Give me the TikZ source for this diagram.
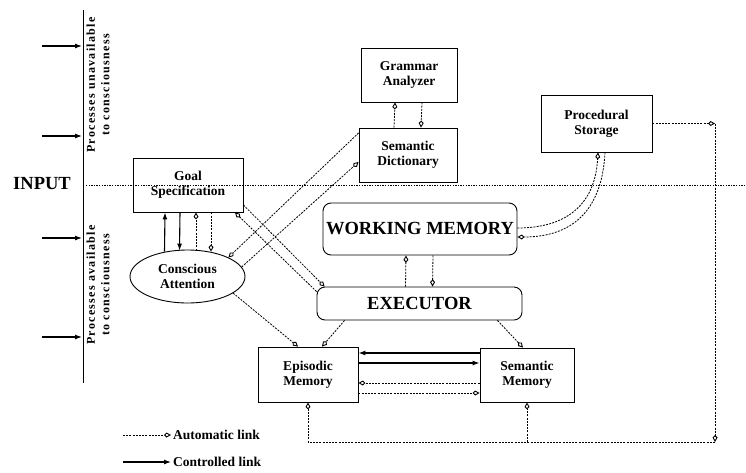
\documentclass[tikz,border=0pt]{standalone}
\usepackage{fontspec}
\setmainfont{Liberation Serif}
\newfontfamily\spacedserif[LetterSpace=11]{Liberation Serif}
\usetikzlibrary{arrows.meta,calc,shapes.geometric}
\begin{document}
\begin{tikzpicture}[x=1pt,y=-1pt,
  box/.style={draw,line width=0.9pt,align=center,inner sep=0pt,
    font=\fontsize{13.5}{15}\selectfont\bfseries},
  rbox/.style={box,rounded corners=8pt,font=\fontsize{18.5}{20}\selectfont\bfseries},
  ctrl/.style={line width=1.1pt,-{Latex[length=7pt,width=5pt]}},
  autoline/.style={line width=0.8pt,dash pattern=on 2pt off 1.2pt},
  autolink/.style={autoline,-{Kite[open,length=7pt,width=5pt,inset=2.5pt,line width=0.9pt]}},
  sidetext/.style={rotate=90,align=center,inner sep=0pt,
    font=\spacedserif\fontsize{12}{14.5}\selectfont\bfseries},
]
\useasboundingbox (0,0) rectangle (746,472);

% consciousness axis with its input arrows
\coordinate (axT) at (83,10);
\coordinate (axB) at (83,383);
\draw[line width=0.8pt] (axT) -- (axB);
\foreach \y [count=\i] in {46,136,238,337} {
  \coordinate (inS\i) at (42,\y);
  \coordinate (inE\i) at (82,\y);
  \draw[ctrl] (inS\i) -- (inE\i);
}
\node[sidetext] (unav) at (98,85) {Processes unavailable\\to consciousness};
\node[sidetext] (avail) at (98,285) {Processes available\\to consciousness};
\node[inner sep=0pt,font=\fontsize{18.5}{20}\selectfont\bfseries] (input) at (42,184) {INPUT};

% components
\node[box,minimum width=96pt,minimum height=54pt] (ga) at (409,75) {Grammar\\Analyzer};
\node[box,minimum width=98pt,minimum height=54pt] (sd) at (408,155) {Semantic\\Dictionary};
\node[box,minimum width=111pt,minimum height=57pt] (ps) at (596.5,123.5) {Procedural\\Storage};
\node[box,minimum width=110pt,minimum height=54pt] (gs) at (188,185) {Goal\\Specification};
\node[box,ellipse,minimum width=115pt,minimum height=53pt] (ca) at (187.5,276.5) {Conscious\\Attention};
\node[rbox,minimum width=194pt,minimum height=52pt] (wm) at (420,229) {WORKING MEMORY};
\node[rbox,minimum width=205pt,minimum height=33pt] (ex) at (419.5,303.5) {EXECUTOR};
\node[box,minimum width=100pt,minimum height=55pt] (em) at (308,374.5) {Episodic\\Memory};
\node[box,minimum width=94pt,minimum height=54pt] (sm) at (527,375) {Semantic\\Memory};

% boundary between unconscious and conscious processes
\coordinate (hL) at (86,185);
\coordinate (hR) at (746,185);
\draw[line width=0.8pt,dash pattern=on 1.3pt off 1.3pt] (hL) -- (hR);

% goal specification <-> conscious attention
\draw[ctrl] ([xshift=-23pt,yshift=-2pt]ca.north) -- ([xshift=-23pt]gs.south);
\draw[ctrl] ([xshift=-8pt]gs.south) -- ([xshift=-8pt,yshift=-1pt]ca.north);
\draw[autolink] ([xshift=8.5pt,yshift=-1pt]ca.north) -- ([xshift=8pt]gs.south);
\draw[autolink] ([xshift=23pt]gs.south) -- ([xshift=23.5pt,yshift=-2pt]ca.north);

% grammar analyzer <-> semantic dictionary
\draw[autolink] ([xshift=-14pt]sd.north) -- ([xshift=-14pt]ga.south);
\draw[autolink] ([xshift=13pt]ga.south) -- ([xshift=13pt]sd.north);

% working memory <-> executor
\draw[autolink] ([xshift=-14pt]ex.north) -- ([xshift=-14pt]wm.south);
\draw[autolink] ([xshift=13pt]wm.south) -- ([xshift=13pt]ex.north);

% goal specification <-> executor
\draw[autolink] ([yshift=-20pt]gs.east) -- ([xshift=8pt]ex.north west);
\draw[autolink] ([yshift=-5pt]ex.north west) -- ([xshift=47pt]gs.south);

% conscious attention <-> semantic dictionary
\draw[autolink] ([yshift=22pt]sd.west) -- (ca.25);
\draw[autolink] (ca.10) -- ([yshift=-7pt]sd.west);

% links into episodic and semantic memory
\draw[autolink] (ca.-20) -- ([xshift=-10pt]em.north);
\draw[autolink] ([xshift=28pt]ex.south west) -- ([xshift=14pt]em.north);
\draw[autolink] ([xshift=-25pt]ex.south east) -- ([xshift=-4pt]sm.north);

% episodic memory <-> semantic memory
\draw[ctrl] ([yshift=21.5pt]em.east -| sm.west) -- ([yshift=21.5pt]em.east);
\draw[ctrl] ([yshift=11.5pt]em.east) -- ([yshift=11.5pt]em.east -| sm.west);
\draw[autolink] ([yshift=-8.5pt]em.east -| sm.west) -- ([yshift=-8.5pt]em.east);
\draw[autolink] ([yshift=-18.5pt]em.east) -- ([yshift=-18.5pt]em.east -| sm.west);

% procedural storage <-> working memory
\draw[autolink] ([yshift=1pt]wm.east) .. controls +(48,0) and +(-3,53) .. ([xshift=1.5pt]ps.south);
\draw[autolink] ([xshift=8.5pt]ps.south) .. controls +(-3,60) and +(53,0) .. ([yshift=-8pt]wm.east);

% procedural storage feeding both long-term memories
\coordinate (busR) at (715,442);
\coordinate (psR) at (ps.east -| busR);
\draw[autolink] (ps.east) -- (psR);
\draw[autolink] (psR) -- (busR);
\draw[autolink] (busR) -- (busR -| em.south) -- (em.south);
\draw[autolink] (busR -| sm.south) -- (sm.south);

% legend
\node[anchor=west,inner sep=0pt,font=\fontsize{13.5}{15}\selectfont\bfseries] (lta) at (173,435) {Automatic link};
\node[anchor=west,inner sep=0pt,font=\fontsize{13.5}{15}\selectfont\bfseries] (ltc) at (173,462) {Controlled link};
\coordinate (la) at (123,435);
\coordinate (lc) at (123,462);
\draw[autolink,shorten >=2pt] (la) -- (lta.west);
\draw[ctrl,shorten >=2pt] (lc) -- (ltc.west);
\end{tikzpicture}
\end{document}
